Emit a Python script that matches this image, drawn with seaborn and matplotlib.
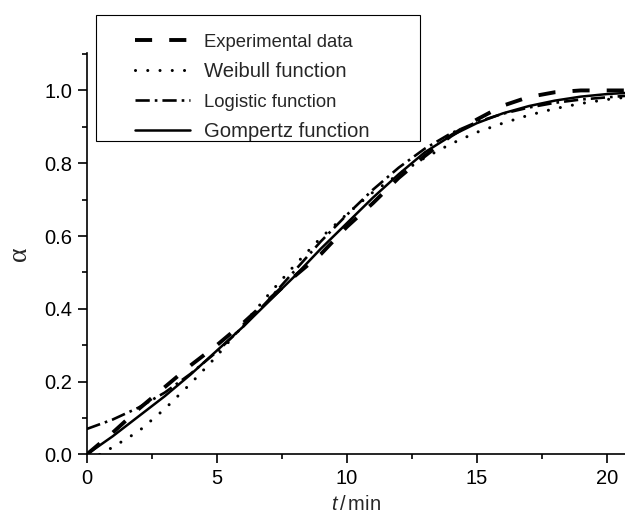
import matplotlib
matplotlib.use("Agg")
import matplotlib.pyplot as plt
from matplotlib.patches import Rectangle
from matplotlib.ticker import MultipleLocator
import seaborn as sns
import pandas as pd

# ---- data ----
t_exp = [0, 1, 2, 3, 4, 5, 6, 7, 8, 9, 10, 11, 12, 13, 14, 15, 16, 17, 18, 19, 20, 20.7]
a_exp = [0.0, 0.06, 0.125, 0.185, 0.245, 0.30, 0.36, 0.425, 0.49, 0.55, 0.625, 0.69,
         0.76, 0.82, 0.875, 0.92, 0.958, 0.982, 0.995, 1.0, 1.0, 1.0]

t_wei = [0.5, 1, 1.5, 2, 3, 4, 5, 6, 7, 8, 9, 10, 11, 12, 13, 14, 15, 16, 17, 18, 19, 20, 20.7]
a_wei = [0.0, 0.02, 0.042, 0.064, 0.125, 0.195, 0.27, 0.355, 0.44, 0.52, 0.595, 0.66,
         0.72, 0.77, 0.815, 0.853, 0.885, 0.91, 0.932, 0.95, 0.964, 0.975, 0.981]

t_log = [0, 1, 2, 3, 4, 5, 6, 7, 8, 9, 10, 11, 12, 13, 14, 15, 16, 17, 18, 19, 20, 20.7]
a_log = [0.07, 0.096, 0.129, 0.170, 0.222, 0.282, 0.350, 0.425, 0.505, 0.585, 0.658, 0.727,
         0.788, 0.840, 0.882, 0.913, 0.936, 0.953, 0.966, 0.975, 0.981, 0.985]

t_gom = [0, 1, 2, 3, 4, 5, 6, 7, 8, 9, 10, 11, 12, 13, 14, 15, 16, 17, 18, 19, 20, 20.7]
a_gom = [0.0, 0.05, 0.105, 0.16, 0.22, 0.285, 0.35, 0.42, 0.49, 0.565, 0.635, 0.705,
         0.77, 0.83, 0.875, 0.91, 0.937, 0.957, 0.972, 0.983, 0.99, 0.993]

labels = ["Experimental data", "Weibull function", "Logistic function", "Gompertz function"]
label_sizes = [13.3, 14.6, 13.3, 14.6]

# ---- style ----
sns.set_style("ticks")
plt.rcParams["font.family"] = ["Liberation Sans", "DejaVu Sans"]
plt.rcParams["mathtext.fontset"] = "custom"
plt.rcParams["mathtext.rm"] = "Liberation Sans"
plt.rcParams["mathtext.it"] = "Liberation Sans:italic"

fig = plt.figure(figsize=(6.25, 5.18), dpi=100)
ax = fig.add_axes([0.1387, 0.1226, 0.8613, 0.7745])

series = [
    (t_exp, a_exp, dict(linewidth=2.8, linestyle=(0, (4.4, 4.4)))),
    (t_wei, a_wei, dict(linewidth=2.2, linestyle=(0, (0.01, 4.0)), dash_capstyle="round")),
    (t_log, a_log, dict(linewidth=1.9, linestyle=(0, (5.4, 1.9, 1.0, 1.9)))),
    (t_gom, a_gom, dict(linewidth=1.8, linestyle="-")),
]
for (tx, ay, kw), lab in zip(series, labels):
    df = pd.DataFrame({"t": tx, "alpha": ay})
    sns.lineplot(data=df, x="t", y="alpha", ax=ax, color="black", label=lab, **kw)

handles = ax.get_lines()[:4]
ax.get_legend().remove()

ax.set_xlim(0, 20.7)
ax.set_ylim(0, 1.102)
ax.xaxis.set_major_locator(MultipleLocator(5))
ax.xaxis.set_minor_locator(MultipleLocator(2.5))
ax.yaxis.set_major_locator(MultipleLocator(0.2))
ax.yaxis.set_minor_locator(MultipleLocator(0.1))
ax.yaxis.set_major_formatter(matplotlib.ticker.FormatStrFormatter("%.1f"))

sns.despine(ax=ax)
for s in ("left", "bottom"):
    ax.spines[s].set_linewidth(1.2)
    ax.spines[s].set_color("black")
ax.tick_params(which="major", direction="out", length=6.5, width=1.2, labelsize=14.5,
               colors="black", pad=4)
ax.tick_params(which="minor", direction="out", length=3.5, width=1.2, colors="black")

ax.set_xlabel(r"$\it{t}\,$/$\,$min", fontsize=14.5, labelpad=5)
ax.set_ylabel("α", fontsize=20, family=["Liberation Serif", "DejaVu Serif"], labelpad=9)

# legend
leg = ax.legend(handles, labels, frameon=False, loc="upper left",
                bbox_to_anchor=(135 / 625, 1 - 33 / 518), bbox_transform=fig.transFigure,
                borderaxespad=0, borderpad=0, fontsize=14.6,
                handlelength=2.7, handletextpad=0.72, labelspacing=0.55)
for txt, sz in zip(leg.get_texts(), label_sizes):
    txt.set_fontsize(sz)
rect = Rectangle((96 / 625, 1 - 141 / 518), (420 - 96) / 625, (141 - 15) / 518,
                 transform=fig.transFigure, fill=False, edgecolor="black", linewidth=0.8)
fig.patches.append(rect)

fig.savefig("out.png", dpi=100)
